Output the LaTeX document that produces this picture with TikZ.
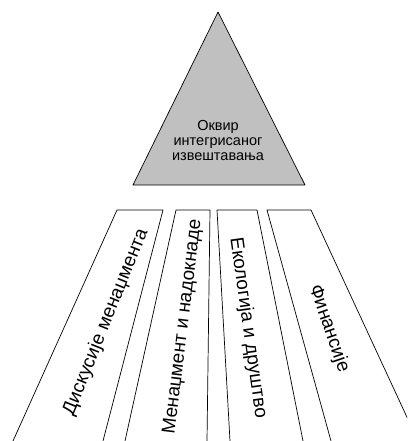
\documentclass[tikz,border=0pt]{standalone}
\usepackage{fontspec}
\setmainfont{Liberation Sans}
\definecolor{pyramid}{RGB}{192,192,192}
\begin{document}
\begin{tikzpicture}[x=1pt,y=-1pt, line width=0.7pt, line join=round, line cap=round,
	strip text/.style={font=\fontsize{19}{21}\selectfont, inner sep=0pt}]
			\def\picw{407} \def\pich{441}% khung
			\def\ytop{210} \def\ybot{450}
			\useasboundingbox (0,0) rectangle (\picw,\pich);
			\clip (0,0) rectangle (\picw,\pich);
			\draw[fill=pyramid] (218,12)--(305,185)--(133,185)--cycle;
			\node[align=center, font=\fontsize{14.5}{15}\selectfont] (okvir) at (218,141) {Оквир\\интегрисаног\\извештавања};
			\foreach \tl/\tr/\br/\bl in {117/163/103/13, 176/210/207/125, 217/257/303/230, 267/311/418/331}
			\draw ({\tl+(\bl-\tl)/231*240},\ybot)--(\tl,\ytop)--(\tr,\ytop)--({\tr+(\br-\tr)/231*240},\ybot);
			\foreach \n/\x/\y/\r/\t in {disk/106/322/68/{Дискусије менаџмента}, nadok/183/327/83/{Менаџмент и надокнаде}, ekol/248/328/-82/{Екологија и друштво}, fin/329/329/-71/{Финансије}}
			\node[strip text, rotate=\r] (\n) at (\x,\y) {\t};
		\end{tikzpicture}
\end{document}
